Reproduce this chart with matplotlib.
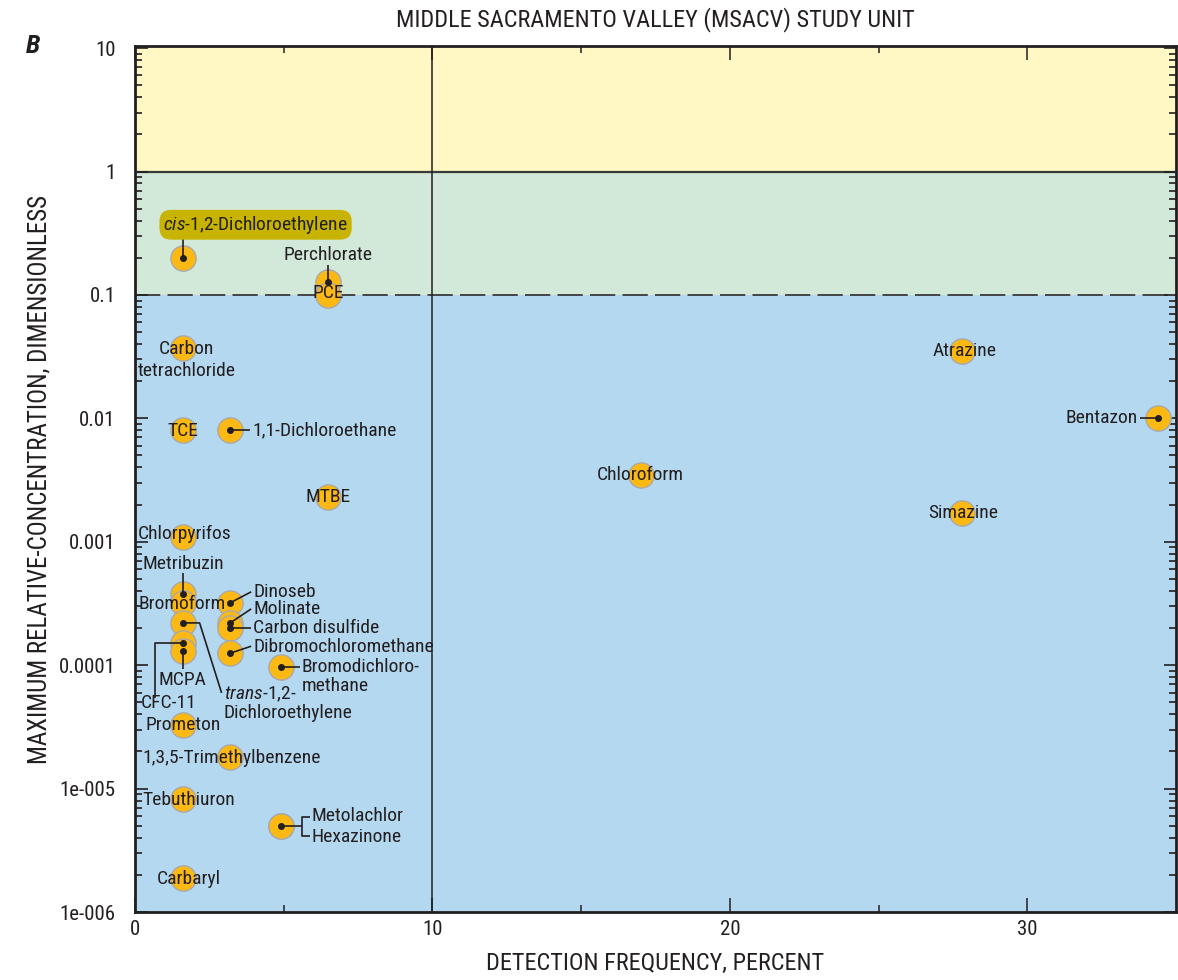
"""Middle Sacramento Valley (MSACV) study unit: max relative-concentration vs detection frequency."""

import matplotlib

matplotlib.use("Agg")
import matplotlib.pyplot as plt  # noqa: E402
from matplotlib import font_manager  # noqa: E402
from matplotlib.ticker import FixedLocator, FixedFormatter, LogLocator, NullFormatter  # noqa: E402

# ---------------------------------------------------------------- data
names = [
    "cis-1,2-Dichloroethylene", "Perchlorate", "PCE", "Carbon tetrachloride", "TCE",
    "1,1-Dichloroethane", "MTBE", "Chloroform", "Atrazine", "Simazine", "Bentazon",
    "Chlorpyrifos", "Metribuzin", "Bromoform", "trans-1,2-Dichloroethylene", "CFC-11",
    "MCPA", "Prometon", "Dinoseb", "Molinate", "Carbon disulfide", "Dibromochloromethane",
    "Bromodichloromethane", "1,3,5-Trimethylbenzene", "Tebuthiuron", "Metolachlor",
    "Hexazinone", "Carbaryl",
]
detect_freq = [
    1.6, 6.5, 6.5, 1.6, 1.6,
    3.2, 6.5, 17.0, 27.8, 27.8, 34.4,
    1.6, 1.6, 1.6, 1.6, 1.6,
    1.6, 1.6, 3.2, 3.2, 3.2, 3.2,
    4.9, 3.2, 1.6, 4.9,
    4.9, 1.6,
]
max_rc = [
    0.20, 0.128, 0.099, 0.037, 0.008,
    0.008, 0.0023, 0.0035, 0.035, 0.0017, 0.010,
    0.0011, 3.8e-4, 3.2e-4, 2.2e-4, 1.5e-4,
    1.3e-4, 3.3e-5, 3.2e-4, 2.2e-4, 2.0e-4, 1.25e-4,
    9.6e-5, 1.8e-5, 8.2e-6, 5.0e-6,
    5.0e-6, 1.9e-6,
]
ytick_vals = [1e-6, 1e-5, 1e-4, 1e-3, 1e-2, 0.1, 1, 10]
ytick_text = ["1e-006", "1e-005", "0.0001", "0.001", "0.01", "0.1", "1", "10"]
xtick_vals = [0, 10, 20, 30]

# ---------------------------------------------------------------- style
INK = "#231f20"
YELLOW = "#fff8c4"
GREEN = "#d2e8d8"
BLUE = "#b3d8f0"
GOLD = "#fdb913"
HILITE = "#c8b400"

installed = {f.name for f in font_manager.fontManager.ttflist}
FAM = [f for f in ("Liberation Sans Narrow", "Roboto Condensed", "Roboto") if f in installed][:1]
BASE = FAM[0] if FAM else "DejaVu Sans"
plt.rcParams.update({
    "font.family": FAM + ["DejaVu Sans"], "text.color": INK, "axes.edgecolor": INK,
    "xtick.color": INK, "ytick.color": INK, "axes.labelcolor": INK,
    "mathtext.fontset": "custom", "mathtext.rm": BASE, "mathtext.it": f"{BASE}:italic",
})

# label layout, pixel offsets from the marker (x right, y down)
# name: list of (dx, dy, ha, text) -- one entry per printed line
LABELS = {
    "cis-1,2-Dichloroethylene": [(73, -33, "center", r"$\it{cis}$-1,2-Dichloroethylene")],
    "Perchlorate": [(0, -27, "center", None)],
    "PCE": [(0, -2, "center", None)],
    "Carbon tetrachloride": [(4, 1, "center", "Carbon"), (4, 23, "center", "tetrachloride")],
    "TCE": [(0, 1, "center", None)],
    "1,1-Dichloroethane": [(22, 0, "left", None)],
    "MTBE": [(0, 0, "center", None)],
    "Chloroform": [(0, 0, "center", None)],
    "Atrazine": [(3, 0, "center", None)],
    "Simazine": [(1, 0, "center", None)],
    "Bentazon": [(-20, 0, "right", None)],
    "Chlorpyrifos": [(2, -3, "center", None)],
    "Metribuzin": [(1, -30, "center", None)],
    "Bromoform": [(0, 1, "center", None)],
    "trans-1,2-Dichloroethylene": [(41, 71, "left", r"$\it{trans}$-1,2-"),
                                   (41, 90, "left", "Dichloroethylene")],
    "CFC-11": [(-14, 60, "center", None)],
    "MCPA": [(0, 29, "center", None)],
    "Prometon": [(1, 0, "center", None)],
    "Dinoseb": [(23, -11, "left", None)],
    "Molinate": [(23, -14, "left", None)],
    "Carbon disulfide": [(23, 0, "left", None)],
    "Dibromochloromethane": [(23, -6, "left", None)],
    "Bromodichloromethane": [(21, 0, "left", "Bromodichloro-"), (21, 19, "left", "methane")],
    "1,3,5-Trimethylbenzene": [(2, 1, "center", None)],
    "Tebuthiuron": [(6, 1, "center", None)],
    "Metolachlor": [(31, -10, "left", None)],
    "Hexazinone": [(31, 11, "left", None)],
    "Carbaryl": [(6, 1, "center", None)],
}
LEADERS = {
    "cis-1,2-Dichloroethylene": [(0, 0), (0, -24)],
    "Perchlorate": [(0, 0), (0, -17)],
    "1,1-Dichloroethane": [(0, 0), (20, 0)],
    "Bentazon": [(0, 0), (-18, 0)],
    "Metribuzin": [(0, 0), (0, -21)],
    "trans-1,2-Dichloroethylene": [(0, 0), (17, 0), (39, 70)],
    "CFC-11": [(0, 0), (-28, 0), (-28, 55)],
    "MCPA": [(0, 0), (0, 18)],
    "Dinoseb": [(0, 0), (21, -11)],
    "Molinate": [(0, 0), (21, -14)],
    "Carbon disulfide": [(0, 0), (21, 0)],
    "Dibromochloromethane": [(0, 0), (21, -7)],
    "Bromodichloromethane": [(0, 0), (19, 0)],
    "Metolachlor": [(0, 0), (21, 0)],
    "Hexazinone": [(29, -9), (21, -9), (21, 10), (29, 10)],
}

fig = plt.figure(figsize=(11.78, 9.8), dpi=100)
ax = fig.add_axes([135 / 1178, 68 / 980, 1041 / 1178, 866 / 980])
ax.set_yscale("log")
ax.set_xlim(0, 35)
ax.set_ylim(1e-6, 10.4)

# benchmark bands
ax.axhspan(1, 100, color=YELLOW, zorder=0, lw=0)
ax.axhspan(0.1, 1, color=GREEN, zorder=0, lw=0)
ax.axhspan(1e-7, 0.1, color=BLUE, zorder=0, lw=0)
ax.axhline(1, color="#3a3a3a", lw=1.6, zorder=1)
ax.axhline(0.1, color="#3a3a3a", lw=1.3, dashes=(14, 4), zorder=1)
ax.axvline(10, color=INK, lw=1.1, zorder=1)

ax.scatter(detect_freq, max_rc, s=330, color=GOLD, edgecolor="#a9a9a9", linewidth=1.0, zorder=3)

# ticks
ax.yaxis.set_major_locator(FixedLocator(ytick_vals))
ax.yaxis.set_major_formatter(FixedFormatter(ytick_text))
ax.yaxis.set_minor_locator(LogLocator(base=10, subs=range(2, 10)))
ax.yaxis.set_minor_formatter(NullFormatter())
ax.set_xticks(xtick_vals)
ax.set_xticks([5, 15, 25], minor=True)
ax.tick_params(which="both", direction="in", left=True, right=True, top=True, bottom=True,
               labelsize=15)
ax.tick_params(axis="y", which="major", length=9, width=1.2, pad=14)
ax.tick_params(axis="y", which="minor", length=5, width=1.2)
ax.tick_params(axis="x", which="major", length=10, width=1.1, pad=6)
ax.tick_params(axis="x", which="minor", length=5, width=1.1)
for s in ax.spines.values():
    s.set_linewidth(2)
    s.set_zorder(5)

ax.set_xlabel("DETECTION FREQUENCY, PERCENT", fontsize=17.5, labelpad=9)
ax.set_ylabel("MAXIMUM RELATIVE-CONCENTRATION, DIMENSIONLESS", fontsize=18, labelpad=5)
ax.set_title("MIDDLE SACRAMENTO VALLEY (MSACV) STUDY UNIT", fontsize=17.5, pad=14)
fig.text(26 / 1178, 1 - 46 / 980, "B", fontsize=19, fontweight="bold", fontstyle="italic",
         ha="left", va="center")


def offset_data(x, y, dx, dy):
    px, py = ax.transData.transform((x, y))
    return ax.transData.inverted().transform((px + dx, py - dy))


for name, x, y in zip(names, detect_freq, max_rc):
    if name in LEADERS:
        path = [offset_data(x, y, dx, dy) for dx, dy in LEADERS[name]]
        ax.plot([p[0] for p in path], [p[1] for p in path], color=INK, lw=1.2, zorder=4,
                solid_capstyle="butt")
        if LEADERS[name][0] == (0, 0):
            ax.plot(x, y, "o", ms=4, color=INK, zorder=4)
    for dx, dy, ha, txt in LABELS[name]:
        kw = {}
        if name.startswith("cis"):
            kw["bbox"] = dict(boxstyle="round,pad=0.2,rounding_size=0.6", fc=HILITE, ec="none")
        ax.annotate(txt or name, xy=(x, y), xytext=(dx, -dy), textcoords="offset pixels",
                    ha=ha, va="center", fontsize=14, zorder=6, **kw)

fig.savefig("out.png", dpi=100)
